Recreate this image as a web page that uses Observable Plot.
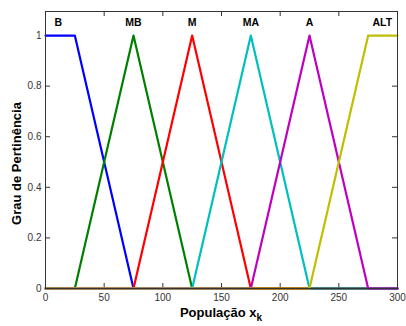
<!DOCTYPE html>
<html><head><meta charset="utf-8">
<script src="https://cdn.jsdelivr.net/npm/d3@7"></script>
<script src="https://cdn.jsdelivr.net/npm/@observablehq/plot@0.6"></script>
<style>body{margin:0;background:#fff}</style>
</head><body><div id="chart"></div>
<script>
const names = ["B", "MB", "M", "MA", "A", "ALT"];
const colors = ["#0000ff", "#008000", "#ff0000", "#00bfbf", "#bf00bf", "#bfbf00"];
// breakpoints (x) and membership values (y) for each function, over 0..300
const xsB = [0, 25, 75, 300], ysB = [1, 1, 0, 0];
const xsMB = [0, 25, 75, 125, 300], ysMB = [0, 0, 1, 0, 0];
const xsM = [0, 75, 125, 175, 300], ysM = [0, 0, 1, 0, 0];
const xsMA = [0, 125, 175, 225, 300], ysMA = [0, 0, 1, 0, 0];
const xsA = [0, 175, 225, 275, 300], ysA = [0, 0, 1, 0, 0];
const xsALT = [0, 225, 275, 300], ysALT = [0, 0, 1, 1];
const labelX = [11, 75, 125, 175, 225, 287];
const labelY = 1.05;
const xTicks = [0, 50, 100, 150, 200, 250, 300];
const yTicks = [0, 0.2, 0.4, 0.6, 0.8, 1];

const series = [[xsB, ysB], [xsMB, ysMB], [xsM, ysM], [xsMA, ysMA], [xsA, ysA], [xsALT, ysALT]];
const lineData = series.flatMap(([xs, ys], i) => xs.map((x, j) => ({name: names[i], x, y: ys[j]})));
const labels = names.map((n, i) => ({name: n, x: labelX[i], y: labelY}));

const W = 406, H = 326, mL = 45, mR = 9, mT = 11, mB = 38;
const pw = W - mL - mR, ph = H - mT - mB, tk = 5;
const font = "Liberation Sans, Arial, Helvetica, sans-serif";
const axisColor = "#333";

const plot = Plot.plot({
  width: W, height: H,
  marginLeft: mL, marginRight: mR, marginTop: mT, marginBottom: mB,
  style: {fontFamily: font, fontSize: "10px", color: axisColor, background: "#fff"},
  x: {domain: [0, 300], ticks: xTicks},
  y: {domain: [0, 1.095], ticks: yTicks},
  color: {domain: names, range: colors},
  marks: [
    Plot.axisX(xTicks, {tickSize: 0, tickPadding: 5, label: null, fontSize: 10, fill: axisColor, tickFormat: d => String(d)}),
    Plot.axisY(yTicks, {tickSize: 0, tickPadding: 4, label: null, fontSize: 10, fill: axisColor, tickFormat: d => String(d)}),
    Plot.tickX(xTicks, {x: d => d, insetTop: ph - tk, stroke: axisColor}),
    Plot.tickX(xTicks, {x: d => d, insetBottom: ph - tk, stroke: axisColor}),
    Plot.tickY(yTicks, {y: d => d, insetRight: pw - tk, stroke: axisColor}),
    Plot.tickY(yTicks, {y: d => d, insetLeft: pw - tk, stroke: axisColor}),
    Plot.line(lineData, {x: "x", y: "y", z: "name", stroke: "name", strokeWidth: 2.2}),
    Plot.text(labels, {x: "x", y: "y", text: "name", fontWeight: "bold", fontSize: 10.5, fill: "#000"}),
    Plot.frame({stroke: axisColor, strokeWidth: 1})
  ]
});
document.getElementById("chart").appendChild(plot);

const svg = d3.select(plot);
const xl = svg.append("text")
  .attr("x", mL + pw / 2).attr("y", 317)
  .attr("text-anchor", "middle")
  .attr("font-family", font).attr("font-weight", "bold").attr("font-size", 13).attr("fill", "#000");
xl.append("tspan").text("População x");
xl.append("tspan").attr("font-size", 10).attr("dy", 4).text("k");
svg.append("text")
  .attr("transform", `translate(21,${mT + ph / 2 + 14}) rotate(-90)`)
  .attr("text-anchor", "middle")
  .attr("font-family", font).attr("font-weight", "bold").attr("font-size", 13).attr("fill", "#000")
  .text("Grau de Pertinência");
</script></body></html>
